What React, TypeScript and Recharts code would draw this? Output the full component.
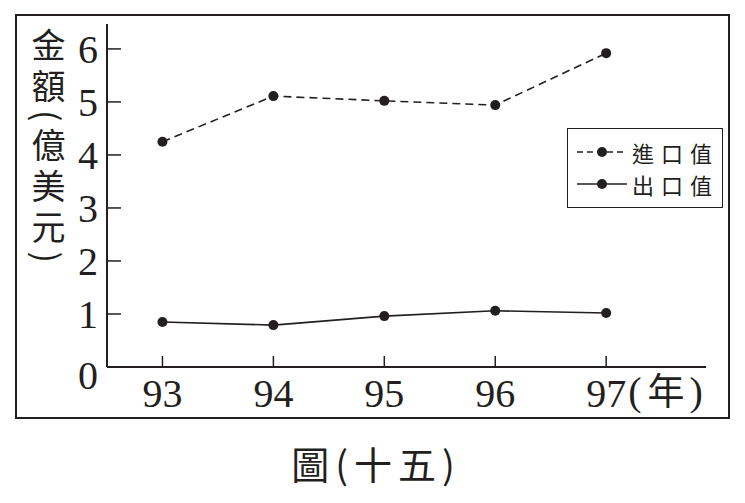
import React from 'react';
import { LineChart, Line, XAxis, YAxis } from 'recharts';

const years = [93, 94, 95, 96, 97];
const importValues = [4.25, 5.11, 5.02, 4.94, 5.92];
const exportValues = [0.85, 0.79, 0.96, 1.06, 1.02];
const yTicks = [0, 1, 2, 3, 4, 5, 6];
const seriesNames = ['進口值', '出口值'];
const yTitle = '金額(億美元)';
const xUnit = '年';
const caption = '圖(十五)';

const INK = '#231f20';
const SERIF = '"Liberation Serif", "Times New Roman", serif';
const CJK = '"Noto Sans CJK TC", "Noto Sans CJK SC", sans-serif';

const data = years.map((year, i) => ({
  year,
  imp: importValues[i],
  exp: exportValues[i],
}));

const YTick = (props: any) => {
  const { x, y, payload } = props;
  const isZero = payload.value === 0;
  return (
    <g>
      {!isZero && <line x1={x} x2={x + 14} y1={y} y2={y} stroke={INK} strokeWidth={1.5} />}
      <text
        x={x - 9}
        y={y + (isZero ? 22 : 14)}
        textAnchor="end"
        fontFamily={SERIF}
        fontSize={40}
        fill={INK}
      >
        {payload.value}
      </text>
    </g>
  );
};

const XTick = (props: any) => {
  const { x, y, payload, index } = props;
  const isLast = index === years.length - 1;
  return (
    <g>
      <line x1={x} x2={x} y1={y} y2={y - 11} stroke={INK} strokeWidth={1.5} />
      <text x={x} y={y + 40} textAnchor="middle" fontFamily={SERIF} fontSize={40} fill={INK}>
        {payload.value}
      </text>
      {isLast && (
        <text x={x + 22} y={y + 38} textAnchor="start" fill={INK}>
          <tspan fontFamily={SERIF} fontSize={40}>(</tspan>
          <tspan fontFamily={CJK} fontSize={37} dx={6}>{xUnit}</tspan>
          <tspan fontFamily={SERIF} fontSize={40} dx={5}>)</tspan>
        </text>
      )}
    </g>
  );
};

// legend drawn as html rows so the sample + label sit like the printed key
const LegendBox = () => (
  <div
    style={{
      position: 'absolute',
      left: 567,
      top: 128,
      width: 156,
      height: 80,
      border: `1.5px solid ${INK}`,
      boxSizing: 'border-box',
      background: '#fff',
      paddingTop: 7,
    }}
  >
    {seriesNames.map((name, i) => (
      <div key={name} style={{ display: 'flex', alignItems: 'center', height: 32 }}>
        <svg width={64} height={32} style={{ flex: 'none' }}>
          <line
            x1={9}
            x2={59}
            y1={16}
            y2={16}
            stroke={INK}
            strokeWidth={1.5}
            strokeDasharray={i === 0 ? '6 4' : undefined}
          />
          <circle cx={34} cy={16} r={5} fill={INK} />
        </svg>
        <span
          style={{
            fontFamily: CJK,
            fontSize: 22,
            lineHeight: '26px',
            letterSpacing: 7,
            color: INK,
            whiteSpace: 'nowrap',
          }}
        >
          {name}
        </span>
      </div>
    ))}
  </div>
);

export default function App() {
  return (
    <div style={{ position: 'absolute', left: 0, top: 0, width: 745, height: 503, background: '#fff' }}>
      <div
        style={{
          position: 'absolute',
          left: 15,
          top: 14,
          width: 715,
          height: 405,
          border: `2px solid ${INK}`,
          boxSizing: 'border-box',
        }}
      />
      <div style={{ position: 'absolute', left: 0, top: 0 }}>
        <LineChart width={745} height={503} data={data} margin={{ top: 24, right: 39, bottom: 106, left: 47 }}>
          <XAxis
            dataKey="year"
            type="number"
            domain={[92.5, 97.9]}
            ticks={years}
            allowDataOverflow
            height={30}
            tickSize={0}
            tickMargin={0}
            tickLine={false}
            axisLine={{ stroke: INK, strokeWidth: 2 }}
            tick={<XTick />}
            interval={0}
          />
          <YAxis
            type="number"
            domain={[0, 6.47]}
            ticks={yTicks}
            allowDataOverflow
            width={60}
            tickSize={0}
            tickMargin={0}
            tickLine={false}
            axisLine={{ stroke: INK, strokeWidth: 2 }}
            tick={<YTick />}
            interval={0}
          />
          <Line
            dataKey="imp"
            name={seriesNames[0]}
            type="linear"
            stroke={INK}
            strokeWidth={1.6}
            strokeDasharray="8 5"
            dot={{ r: 5, fill: INK, stroke: INK, strokeWidth: 0 }}
            activeDot={false}
            isAnimationActive={false}
          />
          <Line
            dataKey="exp"
            name={seriesNames[1]}
            type="linear"
            stroke={INK}
            strokeWidth={1.6}
            dot={{ r: 5, fill: INK, stroke: INK, strokeWidth: 0 }}
            activeDot={false}
            isAnimationActive={false}
          />
        </LineChart>
      </div>
      <LegendBox />
      <div
        style={{
          position: 'absolute',
          left: 31,
          top: 28,
          writingMode: 'vertical-rl',
          fontFamily: CJK,
          fontSize: 34,
          lineHeight: '34px',
          letterSpacing: 7,
          color: INK,
        }}
      >
        {yTitle}
      </div>
      <div
        style={{
          position: 'absolute',
          left: 0,
          width: 752,
          top: 444,
          textAlign: 'center',
          fontFamily: CJK,
          fontSize: 38,
          lineHeight: '38px',
          letterSpacing: 6,
          color: INK,
        }}
      >
        {caption}
      </div>
    </div>
  );
}
